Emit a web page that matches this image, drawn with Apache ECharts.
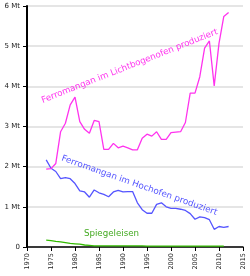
<!DOCTYPE html>
<html>
<head>
<meta charset="utf-8">
<script src="https://cdn.jsdelivr.net/npm/echarts@6/dist/echarts.min.js"></script>
<style>html,body{margin:0;padding:0;background:#fff}#c{width:250px;height:276px}</style>
</head>
<body>
<div id="c"></div>
<script>
var years = [1974,1975,1976,1977,1978,1979,1980,1981,1982,1983,1984,1985,1986,1987,1988,1989,1990,1991,1992,1993,1994,1995,1996,1997,1998,1999,2000,2001,2002,2003,2004,2005,2006,2007,2008,2009,2010,2011,2012];
var lichtbogen = [1.94,1.95,2.08,2.87,3.08,3.54,3.73,3.12,2.93,2.83,3.15,3.12,2.43,2.43,2.58,2.47,2.51,2.47,2.42,2.42,2.71,2.81,2.76,2.87,2.68,2.68,2.85,2.86,2.87,3.10,3.83,3.83,4.24,4.95,5.13,4.01,5.07,5.74,5.84];
var hochofen = [2.17,1.96,1.88,1.70,1.73,1.70,1.58,1.40,1.37,1.24,1.42,1.35,1.31,1.25,1.37,1.41,1.37,1.38,1.38,1.10,0.93,0.84,0.84,1.06,1.10,1.00,0.96,0.96,0.94,0.91,0.83,0.69,0.75,0.73,0.68,0.44,0.51,0.49,0.51];
var spiegeleisen = [0.17,0.16,0.14,0.13,0.11,0.09,0.08,0.07,0.05,0.04,0.03,0.03,0.03,0.03,0.03,0.03,0.03,0.03,0.03,0.03,0.03,0.02,0.02,0.02,0.02,0.02,0.02,0.02,0.02,0.02,0.02,0.02,0.02,0.02,0.02,0.02,0.02,0.02];
var yTicks = ['0','1 Mt','2 Mt','3 Mt','4 Mt','5 Mt','6 Mt'];
var labelLicht = 'Ferromangan im Lichtbogenofen produziert';
var labelHoch = 'Ferromangan im Hochofen produziert';
var labelSpiegel = 'Spiegeleisen';

var colMag = '#ff33ee', colBlue = '#5555ff', colGreen = '#33bb00';
function pairs(vals){ return vals.map(function(v,i){ return [years[i], v]; }); }

var chart = echarts.init(document.getElementById('c'), null, {renderer:'canvas'});
var font = 'DejaVu Sans';
chart.setOption({
  animation:false,
  grid:{left:27, right:7, top:6, bottom:29, containLabel:false},
  xAxis:{type:'value', min:1970, max:2015, interval:5,
    axisLine:{show:true, onZero:false, lineStyle:{color:'#000', width:1.5}},
    axisTick:{show:true, length:4, lineStyle:{color:'#000'}},
    axisLabel:{rotate:90, fontSize:6.5, color:'#222', fontFamily:font, margin:6,
      formatter:function(v){ return String(v); }},
    splitLine:{show:false}},
  yAxis:{type:'value', min:0, max:6, interval:1,
    axisLine:{show:true, lineStyle:{color:'#000', width:2}},
    axisTick:{show:true, length:4, lineStyle:{color:'#000'}},
    axisLabel:{fontSize:7, color:'#222', fontFamily:font, margin:7,
      formatter:function(v){ return yTicks[Math.round(v)]; }},
    splitLine:{show:true, lineStyle:{color:'#dddddd', width:1.5}}},
  series:[
    {type:'line', data:pairs(spiegeleisen), symbol:'none', lineStyle:{color:colGreen, width:1.3}, z:3},
    {type:'line', data:pairs(hochofen), symbol:'none', lineStyle:{color:colBlue, width:1.3}},
    {type:'line', data:pairs(lichtbogen), symbol:'none', lineStyle:{color:colMag, width:1.3}}
  ]
});
function pt(x,y){ return chart.convertToPixel({gridIndex:0},[x,y]); }
var p1 = pt(1991.4,4.5), p2 = pt(1993.4,1.53), p3 = pt(1987.6,0.32);
chart.setOption({graphic:[
  {type:'text', x:p1[0], y:p1[1], rotation:21.5*Math.PI/180, style:{text:labelLicht, fill:colMag, font:'8.7px "DejaVu Sans"', align:'center', verticalAlign:'middle'}},
  {type:'text', x:p2[0], y:p2[1], rotation:-19.4*Math.PI/180, style:{text:labelHoch, fill:colBlue, font:'8.8px "DejaVu Sans"', align:'center', verticalAlign:'middle'}},
  {type:'text', x:p3[0], y:p3[1], style:{text:labelSpiegel, fill:'#44aa22', font:'8.7px "DejaVu Sans"', align:'center', verticalAlign:'middle'}}
]});
</script>
</body>
</html>
